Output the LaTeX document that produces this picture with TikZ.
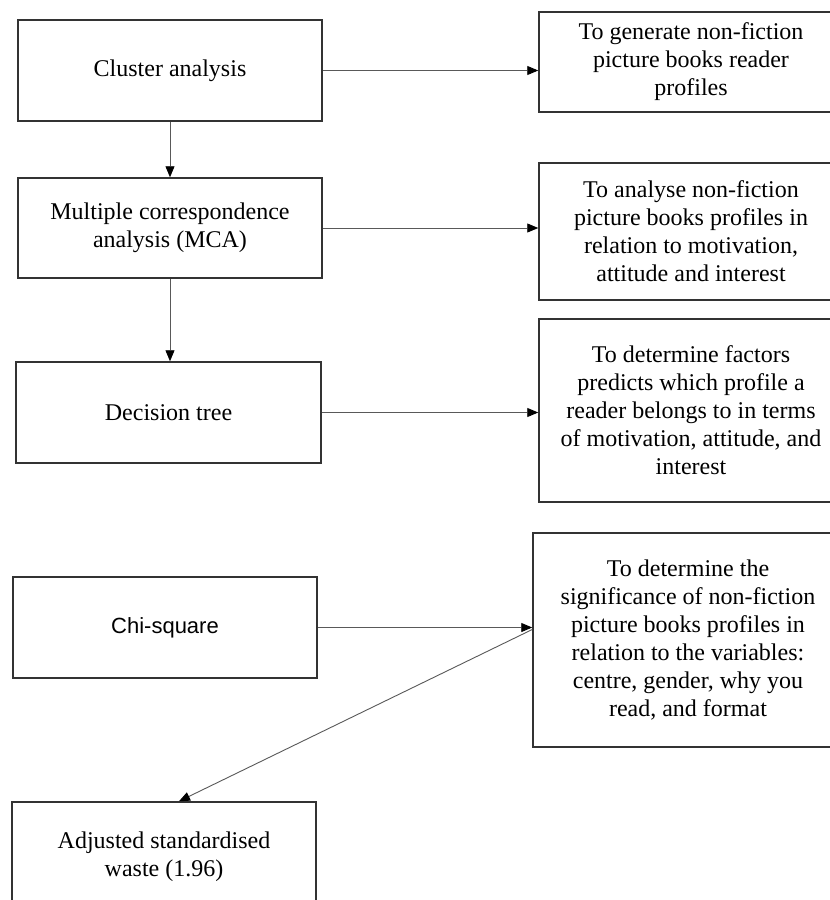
\documentclass[tikz,border=0pt]{standalone}
\usepackage{fontspec}
\setmainfont{Liberation Serif}
\newfontfamily\chifont{Liberation Sans}
\usetikzlibrary{arrows.meta,calc}
\tikzset{
  box/.style={draw=black!80, line width=1.5pt, inner sep=0pt, align=center,
    font=\fontsize{24}{28}\selectfont},
  arr/.style={draw=black!65, line width=0.9pt,
    -{Triangle[length=11pt,width=9pt,fill=black,color=black]}}
}
\begin{document}
\begin{tikzpicture}[x=1pt,y=-1pt]
\useasboundingbox (0,0) rectangle (830,900);
\fill[white] (0,0) rectangle (830,900);
\node[box, minimum width=304, minimum height=101] (A) at (170,70.5) {Cluster analysis};
\node[box, minimum width=304, minimum height=100] (B) at (170,228) {Multiple correspondence\\analysis (MCA)};
\node[box, minimum width=305, minimum height=101] (C) at (168.5,412.5) {Decision tree};
\node[box, minimum width=304, minimum height=101, font=\chifont\fontsize{22}{26}\selectfont] (D) at (165,627.5) {Chi-square};
\node[box, minimum width=304, minimum height=110] (E) at (164,857) {Adjusted standardised\\waste (1.96)};
\node[box, minimum width=304, minimum height=100] (R1) at (691,62) {To generate non-fiction\\picture books reader\\profiles};
\node[box, minimum width=304, minimum height=137] (R2) at (691,231.5) {To analyse non-fiction\\picture books profiles in\\relation to motivation,\\attitude and interest};
\node[box, minimum width=304, minimum height=183] (R3) at (691,410.5) {To determine factors\\predicts which profile a\\reader belongs to in terms\\of motivation, attitude, and\\interest};
\node[box, minimum width=310, minimum height=214] (R4) at (688,640) {To determine the\\significance of non-fiction\\picture books profiles in\\relation to the variables:\\centre, gender, why you\\read, and format};
\draw[arr] (A.east) -- (A.east -| R1.west);
\draw[arr] (B.east) -- (B.east -| R2.west);
\draw[arr] (C.east) -- (C.east -| R3.west);
\draw[arr] (D.east) -- (D.east -| R4.west);
\draw[arr] (A.south) -- (A.south |- B.north);
\draw[arr] (B.south) -- (B.south |- C.north);
\draw[arr] ($(R4.west |- D.east)+(0,2)$) -- ($(E.north)+(15,0)$);
\end{tikzpicture}
\end{document}
